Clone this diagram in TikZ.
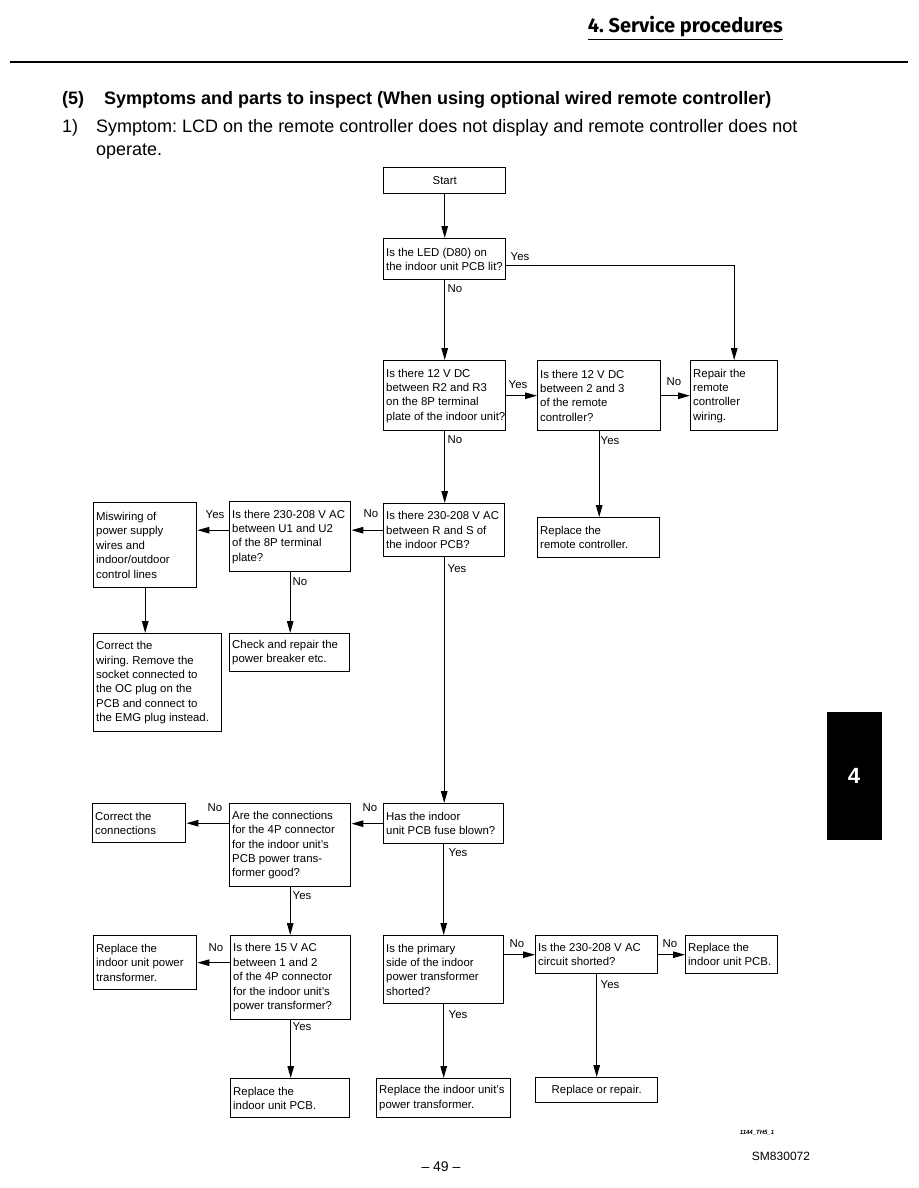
\documentclass[tikz,border=0pt]{standalone}
\usepackage{fontspec}
\setmainfont{Liberation Sans}
\newfontfamily\hdrfont{Fira Sans}
\usetikzlibrary{arrows.meta,calc}
\frenchspacing
\tikzset{
  boxst/.style={draw, line width=1.4pt, anchor=north west, inner sep=0pt},
  txtst/.style={anchor=west, align=left, inner sep=0pt, font=\fontsize{11.4}{14.4}\selectfont},
  lbl/.style={inner sep=0pt, font=\fontsize{11.4}{14.4}\selectfont},
  conn/.style={line width=1.1pt, -{Triangle[length=12pt,width=6.5pt]}},
  plain/.style={line width=1pt}
}
\newcommand\flowbox[6]{%
  \node[boxst, minimum width=#4pt, minimum height=#5pt] (#1) at (#2,#3) {};
  \node[txtst] (#1t) at ([xshift=3pt]#1.west) {#6};}
\begin{document}
\begin{tikzpicture}[x=1pt,y=-1pt]
\path[use as bounding box, fill=white] (0,0) rectangle (918,1188);
% header
\node[anchor=base east, inner sep=0pt, font=\hdrfont\bfseries\fontsize{20}{22}\selectfont] (hdr) at (783,33) {4. Service procedures};
\draw[line width=1.6pt] (hdr.south west) ++(0,-2pt) coordinate (ul1) -- (ul1 -| hdr.south east);
\coordinate (rl) at (10,62);
\coordinate (rr) at (908,62);
\draw[line width=2pt] (rl) -- (rr);
% title
\node[anchor=west, inner sep=0pt, font=\bfseries\fontsize{18}{21}\selectfont] (t5) at (62,100) {(5)};
\node[anchor=west, inner sep=0pt, font=\bfseries\fontsize{18}{21}\selectfont] (ttl) at (104,100) {Symptoms and parts to inspect (When using optional wired remote controller)};
\node[anchor=west, inner sep=0pt, font=\fontsize{18}{21}\selectfont] (s1) at (62,128) {1)};
\node[anchor=west, inner sep=0pt, font=\fontsize{18}{21}\selectfont] (s1a) at (96,128) {Symptom: LCD on the remote controller does not display and remote controller does not};
\node[anchor=west, inner sep=0pt, font=\fontsize{18}{21}\selectfont] (s1b) at (96,152) {operate.};
% boxes
\node[boxst, minimum width=122pt, minimum height=26pt, font=\fontsize{11.4}{14.4}\selectfont] (start) at (383,167) {Start};
\flowbox{led}{383}{238}{122}{41}{Is the LED (D80) on\\the indoor unit PCB lit?}
\flowbox{dc}{383}{360}{122}{70}{Is there 12 V DC\\between R2 and R3\\on the 8P terminal\\plate of the indoor unit?}
\flowbox{remote}{537}{360}{123}{70}{Is there 12 V DC\\between 2 and 3\\of the remote\\controller?}
\flowbox{repair}{690}{360}{87}{70}{Repair the\\remote\\controller\\wiring.}
\flowbox{rrc}{537}{517}{122}{40}{Replace the\\remote controller.}
\flowbox{rs}{383}{503}{121}{53}{Is there 230-208 V AC\\between R and S of\\the indoor PCB?}
\flowbox{u1}{229}{501}{121}{70}{Is there 230-208 V AC\\between U1 and U2\\of the 8P terminal\\plate?}
\flowbox{mis}{93}{502}{103}{85}{Miswiring of\\power supply\\wires and\\indoor/outdoor\\control lines}
\flowbox{cw}{93}{633}{128}{98}{Correct the\\wiring. Remove the\\socket connected to\\the OC plug on the\\PCB and connect to\\the EMG plug instead.}
\flowbox{brk}{229}{633}{120}{38}{Check and repair the\\power breaker etc.}
\flowbox{fuse}{383}{803}{120}{40}{Has the indoor\\unit PCB fuse blown?}
\flowbox{fourp}{229}{803}{121}{83}{Are the connections\\for the 4P connector\\for the indoor unit's\\PCB power trans-\\former good?}
\flowbox{cn}{92}{803}{93}{39}{Correct the\\connections}
\flowbox{v15}{230}{935}{120}{84}{Is there 15 V AC\\between 1 and 2\\of the 4P connector\\for the indoor unit's\\power transformer?}
\flowbox{xfmr}{93}{935}{103}{54}{Replace the\\indoor unit power\\transformer.}
\flowbox{rpcb}{230}{1078}{119}{39}{Replace the\\indoor unit PCB.}
\flowbox{prim}{383}{935}{120}{68}{Is the primary\\side of the indoor\\power transformer\\shorted?}
\flowbox{short}{535}{935}{122}{38}{Is the 230-208 V AC\\circuit shorted?}
\flowbox{pcb2}{685}{935}{92}{38}{Replace the\\indoor unit PCB.}
\node[boxst, minimum width=122pt, minimum height=25pt, font=\fontsize{11.4}{14.4}\selectfont] (rep) at (535,1077) {Replace or repair.};
\flowbox{xf2}{376}{1078}{134}{39}{Replace the indoor unit's\\power transformer.}
% connectors
\draw[conn] (start.south) -- (start.south |- led.north);
\draw[conn] (led.south) -- (led.south |- dc.north);
\draw[conn] ([yshift=-6pt]led.east) -| (repair.north);
\draw[conn] (dc.east) -- (remote.west);
\draw[conn] (remote.east) -- (repair.west);
\draw[conn] (remote.south) -- (remote.south |- rrc.north);
\draw[conn] (dc.south) -- (dc.south |- rs.north);
\draw[conn] (rs.west) -- (rs.west -| u1.east);
\draw[conn] (rs.west -| u1.west) -- (rs.west -| mis.east);
\draw[conn] (mis.south) -- (cw.north -| mis.south);
\draw[conn] (u1.south) -- (u1.south |- brk.north);
\draw[conn] (rs.south) -- (rs.south |- fuse.north);
\draw[conn] (fuse.west) -- (fuse.west -| fourp.east);
\draw[conn] (cn.east -| fourp.west) -- (cn.east);
\draw[conn] (fourp.south) -- (fourp.south |- v15.north);
\draw[conn] (xfmr.east -| v15.west) -- (xfmr.east);
\draw[conn] (v15.south) -- (v15.south |- rpcb.north);
\draw[conn] (fuse.south) -- (fuse.south |- prim.north);
\draw[conn] (short.west -| prim.east) -- (short.west);
\draw[conn] (short.east) -- (pcb2.west);
\draw[conn] (short.south) -- (short.south |- rep.north);
\draw[conn] (prim.south) -- (prim.south |- xf2.north);
% labels
\node[lbl] (l1) at (520,257) {Yes};
\node[lbl] (l2) at (455,289) {No};
\node[lbl] (l3) at (518,385) {Yes};
\node[lbl] (l4) at (674,382) {No};
\node[lbl] (l5) at (455,440) {No};
\node[lbl] (l6) at (610,441) {Yes};
\node[lbl] (l7) at (371,514) {No};
\node[lbl] (l8) at (215,515) {Yes};
\node[lbl] (l9) at (300,582) {No};
\node[lbl] (l10) at (457,569) {Yes};
\node[lbl] (l11) at (370,808) {No};
\node[lbl] (l12) at (215,808) {No};
\node[lbl] (l13) at (302,896) {Yes};
\node[lbl] (l14) at (458,853) {Yes};
\node[lbl] (l15) at (216,948) {No};
\node[lbl] (l16) at (302,1027) {Yes};
\node[lbl] (l17) at (517,944) {No};
\node[lbl] (l18) at (670,944) {No};
\node[lbl] (l19) at (610,985) {Yes};
\node[lbl] (l20) at (458,1015) {Yes};
% side tab
\node[fill=black, anchor=north west, minimum width=55pt, minimum height=128pt, inner sep=0pt] (tab) at (827,712) {};
\node[text=white, font=\bfseries\fontsize{22}{24}\selectfont, inner sep=0pt] (tabn) at (854,776) {4};
% footer
\node[inner sep=0pt, font=\fontsize{14}{16}\selectfont] (pg) at (441,1167) {– 49 –};
\node[inner sep=0pt, font=\bfseries\itshape\fontsize{6}{7}\selectfont] (code1) at (757,1133) {1144\_TH5\_1};
\node[inner sep=0pt, font=\fontsize{12}{14}\selectfont] (code2) at (781,1156) {SM830072};
\end{tikzpicture}
\end{document}
